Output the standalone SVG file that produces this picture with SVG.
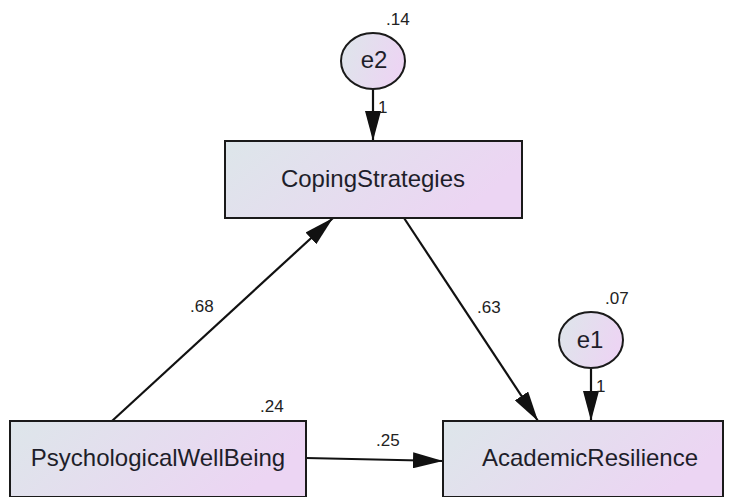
<svg xmlns="http://www.w3.org/2000/svg" width="729" height="497" viewBox="0 0 729 497">
<style>
.node{stroke:#1a1a1a;stroke-width:2;}
.lbl{font-family:"Liberation Sans",Arial,sans-serif;font-size:24px;fill:#1e1e2a;text-anchor:middle;}
.num{font-family:"Liberation Sans",Arial,sans-serif;font-size:17px;fill:#222;}
.one{font-family:"Liberation Sans",Arial,sans-serif;font-size:17px;fill:#222;}
.edge{stroke:#111;stroke-width:2.2;fill:none;marker-end:url(#ah);}
</style>
<defs>
<linearGradient id="g" x1="0" y1="0" x2="1" y2="0.3">
<stop offset="0" stop-color="#dde6ea"/>
<stop offset="1" stop-color="#ecd5f3"/>
</linearGradient>
<marker id="ah" viewBox="0 0 30 16" refX="30" refY="8" markerWidth="30" markerHeight="16" markerUnits="userSpaceOnUse" orient="auto">
<path d="M0,0 L30,8 L0,16 Z" fill="#111"/>
</marker>
</defs>
<g id="connectors">
<line class="edge" x1="373" y1="89" x2="373" y2="141"/>
<line class="edge" x1="591" y1="369" x2="591" y2="421"/>
<line class="edge" x1="404" y1="218" x2="538" y2="421"/>
<line class="edge" x1="112" y1="421" x2="333" y2="218"/>
<line class="edge" x1="306" y1="458" x2="443" y2="461"/>
<text class="one" x="378" y="113">1</text>
<text class="one" x="596" y="392">1</text>
<text class="num" x="477" y="313">.63</text>
<text class="num" x="190" y="312">.68</text>
<text class="num" x="376" y="446">.25</text>
</g>
<g id="e2">
<ellipse class="node" cx="373" cy="61" rx="32" ry="28" fill="url(#g)"/>
<text class="lbl" x="374" y="68">e2</text>
<text class="num" x="386" y="25">.14</text>
</g>
<g id="CopingStrategies">
<rect class="node" x="225" y="141" width="297" height="77" fill="url(#g)"/>
<text class="lbl" x="373" y="187">CopingStrategies</text>
</g>
<g id="PsychologicalWellBeing">
<rect class="node" x="10" y="421" width="296" height="76" fill="url(#g)"/>
<text class="lbl" x="158" y="466">PsychologicalWellBeing</text>
<text class="num" x="260" y="412">.24</text>
</g>
<g id="e1">
<ellipse class="node" cx="591" cy="340" rx="32" ry="28" fill="url(#g)"/>
<text class="lbl" x="590" y="348">e1</text>
<text class="num" x="605" y="304">.07</text>
</g>
<g id="AcademicResilience">
<rect class="node" x="443" y="421" width="280" height="76" fill="url(#g)"/>
<text class="lbl" x="590" y="466">AcademicResilience</text>
</g>
</svg>
